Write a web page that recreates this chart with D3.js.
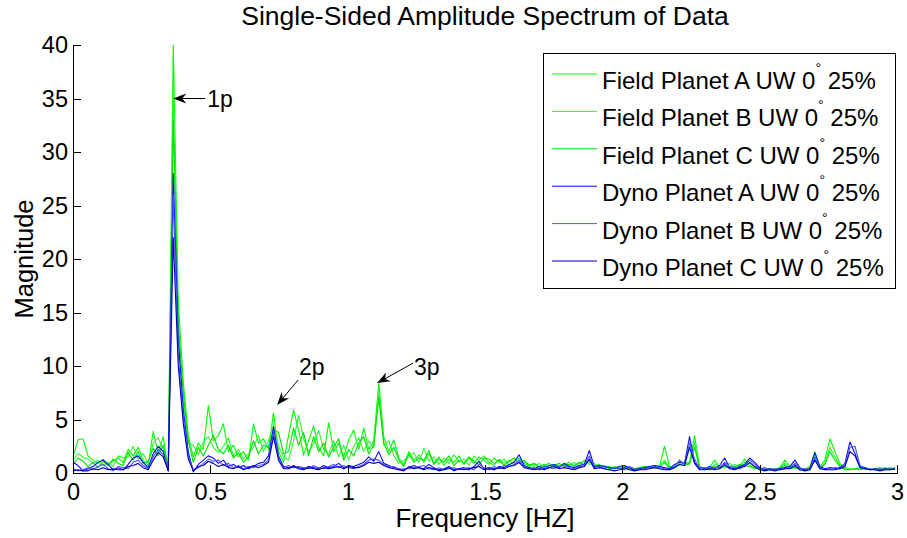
<!DOCTYPE html>
<html>
<head>
<meta charset="utf-8">
<script src="https://cdn.jsdelivr.net/npm/d3@7/dist/d3.min.js"></script>
<style>
	body { margin: 0; background: #fff; }
	text { font-family: Arial, "Liberation Sans", sans-serif; fill: #000; }
</style>
</head>
<body>
<div id="chart" style="width:907px;height:538px;"></div>
<script>
// FFT bin spacing (Hz); bin i sits at i * binWidth
const binWidth = 0.01825;

const fieldA = [
	1.5, 3.1, 3.2, 1.6, 1.2, 0.9, 1.3, 0.8, 1.1, 1.4,
	1.0, 2.2, 1.6, 2.4, 1.2, 0.7, 3.9, 1.9, 3.4, 0.3,
	40, 16, 8.5, 3.5, 1.5, 2.8, 2.2, 6.3, 3.0, 3.5,
	4.6, 2.0, 2.6, 1.5, 2.0, 1.2, 4.6, 2.8, 3.2, 2.2,
	5.6, 2.0, 1.0, 3.5, 5.9, 4.0, 1.7, 3.0, 4.4, 2.4,
	1.6, 4.7, 2.0, 2.8, 1.5, 3.1, 4.0, 2.2, 4.2, 2.2,
	3.0, 8.4, 3.4, 2.0, 3.1, 1.4, 0.8, 2.0, 1.2, 1.7,
	1.0, 1.8, 0.9, 1.5, 0.7, 1.3, 1.0, 1.6, 0.8, 1.4,
	0.9, 1.5, 1.2, 0.8, 1.4, 1.0, 1.3, 0.7, 1.1, 1.4,
	0.9, 0.6, 0.8, 0.5, 0.7, 0.9, 0.5, 0.7, 0.8, 1.0,
	0.6, 0.9, 1.1, 1.0, 0.7, 0.8, 0.5, 0.6, 0.4, 0.6,
	0.5, 0.3, 0.4, 0.5, 0.6, 0.5, 0.7, 0.6, 2.5, 0.6,
	0.5, 1.1, 0.9, 1.0, 3.5, 0.6, 0.4, 0.5, 1.2, 0.5,
	0.6, 0.9, 0.5, 0.7, 1.3, 0.7, 0.5, 0.4, 0.3, 0.4,
	0.3, 0.5, 1.2, 0.6, 0.5, 0.4, 0.3, 0.6, 2.0, 0.6,
	1.2, 3.2, 2.0, 0.9, 0.4, 0.3, 0.4, 0.5, 0.4, 0.3,
	0.4, 0.5, 0.3, 0.4, 0.5
];
const fieldB = [
	1.2, 1.8, 1.5, 1.3, 0.9, 1.2, 0.7, 1.0, 0.6, 1.6,
	1.4, 1.5, 2.5, 1.3, 1.8, 0.9, 2.8, 3.3, 2.2, 0.5,
	36, 13, 6.8, 2.8, 2.6, 1.7, 2.9, 3.4, 2.4, 1.9,
	2.5, 3.3, 1.6, 2.2, 1.3, 1.8, 2.4, 3.5, 2.0, 3.0,
	4.5, 2.5, 1.5, 1.2, 3.0, 5.4, 3.2, 2.0, 2.7, 4.0,
	2.2, 1.8, 3.0, 1.5, 2.6, 1.2, 2.5, 3.3, 2.0, 3.0,
	2.4, 7.6, 2.6, 3.0, 1.6, 0.9, 1.2, 1.5, 1.9, 1.0,
	2.3, 1.1, 1.5, 0.8, 1.4, 0.9, 1.7, 1.0, 1.3, 0.7,
	1.6, 1.2, 1.6, 1.0, 0.7, 1.3, 0.9, 1.2, 0.8, 1.2,
	1.0, 0.8, 0.6, 0.9, 0.5, 0.7, 0.8, 0.6, 0.9, 0.7,
	1.0, 0.6, 1.2, 0.8, 0.9, 0.5, 0.7, 0.4, 0.6, 0.5,
	0.3, 0.5, 0.4, 0.3, 0.5, 0.6, 0.5, 0.7, 1.2, 0.5,
	0.6, 0.9, 1.0, 0.8, 2.9, 0.4, 0.5, 0.3, 0.8, 0.6,
	0.5, 0.6, 0.8, 0.5, 1.0, 0.9, 0.6, 0.3, 0.4, 0.3,
	0.4, 0.4, 0.9, 0.5, 0.6, 0.3, 0.4, 0.5, 1.6, 0.5,
	0.9, 2.4, 1.5, 0.7, 0.5, 0.4, 0.3, 0.4, 0.5, 0.4,
	0.3, 0.4, 0.5, 0.3, 0.4
];
const fieldC = [
	0.8, 1.4, 1.1, 0.6, 1.0, 0.5, 1.1, 0.7, 1.3, 0.9,
	0.7, 1.9, 1.2, 2.0, 0.9, 1.1, 2.3, 1.6, 2.6, 0.4,
	33, 14, 7.5, 3.0, 1.0, 2.4, 1.6, 2.6, 3.5, 2.2,
	1.8, 2.6, 1.4, 1.9, 1.0, 1.5, 3.0, 1.8, 2.6, 2.4,
	4.0, 3.8, 1.8, 2.0, 4.2, 2.6, 3.8, 1.6, 3.4, 2.0,
	2.8, 1.5, 2.4, 3.2, 1.2, 2.2, 1.6, 2.8, 3.4, 1.8,
	2.6, 7.0, 2.8, 1.7, 2.4, 1.2, 0.6, 1.8, 1.0, 1.4,
	1.2, 2.1, 0.8, 1.3, 1.0, 1.6, 0.7, 1.2, 0.9, 1.5,
	1.1, 0.8, 1.4, 1.3, 0.9, 1.2, 0.7, 1.1, 1.4, 0.9,
	1.2, 0.7, 0.9, 0.6, 0.8, 0.5, 0.7, 0.9, 0.6, 0.8,
	0.7, 1.0, 0.8, 1.2, 0.6, 0.7, 0.6, 0.5, 0.5, 0.4,
	0.6, 0.4, 0.3, 0.5, 0.4, 0.5, 0.6, 0.5, 1.0, 0.4,
	0.5, 0.8, 0.7, 0.9, 2.4, 0.5, 0.3, 0.4, 0.6, 0.4,
	0.7, 0.5, 0.6, 0.8, 0.7, 0.6, 0.4, 0.5, 0.3, 0.4,
	0.3, 0.5, 0.7, 0.4, 0.5, 0.4, 0.3, 0.4, 1.3, 0.4,
	0.8, 2.0, 1.2, 0.6, 0.3, 0.3, 0.4, 0.3, 0.4, 0.3,
	0.4, 0.3, 0.4, 0.5, 0.3
];
const dynoA = [
	1.0, 0.7, 0.2, 0.4, 0.6, 1.0, 1.2, 0.8, 0.3, 0.5,
	0.3, 0.8, 1.4, 1.6, 1.0, 0.5, 1.8, 2.5, 2.0, 0.2,
	28, 12.5, 5.9, 2.0, 0.1, 0.8, 1.2, 1.6, 1.4, 0.9,
	1.2, 0.6, 0.8, 0.5, 0.7, 0.4, 0.6, 0.9, 1.0, 1.6,
	4.3, 1.6, 0.6, 0.5, 0.7, 0.5, 0.4, 0.6, 0.5, 0.4,
	0.7, 0.5, 0.6, 0.9, 0.5, 0.7, 0.6, 0.8, 1.0, 1.5,
	1.1, 2.0, 0.9, 0.7, 0.5, 0.4, 0.3, 0.5, 0.7, 0.5,
	0.4, 0.8, 0.5, 0.3, 0.4, 0.6, 0.3, 0.4, 0.5, 0.3,
	0.6, 1.1, 0.4, 0.5, 0.4, 0.6, 0.5, 0.8, 1.0, 1.7,
	0.7, 0.5, 0.4, 0.6, 0.4, 0.7, 0.8, 0.5, 0.9, 0.6,
	0.5, 0.7, 0.8, 2.1, 0.6, 0.7, 0.6, 0.5, 0.4, 0.6,
	0.7, 0.5, 0.3, 0.4, 0.5, 0.6, 0.7, 0.6, 0.5, 0.4,
	0.8, 1.0, 0.9, 3.4, 1.0, 0.5, 0.4, 0.6, 0.4, 0.7,
	1.4, 0.5, 0.4, 0.6, 0.8, 1.4, 1.0, 0.5, 0.3, 0.4,
	0.3, 0.4, 0.5, 0.6, 1.2, 0.5, 0.3, 0.4, 1.9, 0.6,
	0.4, 0.5, 0.4, 0.5, 0.9, 2.9, 1.8, 0.6, 0.5, 0.3,
	0.4, 0.3, 0.4, 0.3, 0.4
];
const dynoB = [
	0.4, 0.2, 0.3, 0.5, 0.3, 0.6, 0.8, 0.4, 0.2, 0.6,
	0.5, 0.4, 1.0, 1.2, 0.7, 0.4, 1.5, 2.2, 1.7, 0.3,
	26, 11, 5.2, 1.6, 0.3, 0.5, 0.9, 1.3, 1.1, 1.2,
	0.7, 0.9, 0.5, 0.7, 0.4, 0.6, 0.5, 0.7, 0.8, 1.2,
	3.8, 1.4, 0.5, 0.7, 0.5, 0.6, 0.5, 0.4, 0.7, 0.5,
	0.4, 0.6, 0.8, 0.5, 0.7, 0.5, 0.4, 0.6, 0.8, 1.2,
	1.3, 1.2, 0.8, 0.6, 0.6, 0.3, 0.4, 0.4, 0.5, 0.6,
	0.7, 0.4, 0.3, 0.5, 0.3, 0.4, 0.5, 0.3, 0.4, 0.5,
	0.3, 0.8, 0.5, 0.3, 0.6, 0.4, 0.7, 0.6, 0.8, 1.2,
	0.6, 0.4, 0.5, 0.3, 0.6, 0.5, 0.4, 0.6, 0.7, 0.5,
	0.4, 0.6, 0.7, 1.6, 0.5, 0.6, 0.4, 0.3, 0.5, 0.4,
	0.3, 0.6, 0.4, 0.3, 0.4, 0.5, 0.6, 0.5, 0.4, 0.3,
	0.6, 1.2, 0.8, 2.8, 1.3, 0.4, 0.5, 0.3, 0.5, 0.5,
	1.0, 0.6, 0.5, 0.4, 0.7, 1.2, 0.8, 0.4, 0.5, 0.3,
	0.4, 0.3, 0.4, 0.5, 0.9, 0.4, 0.4, 0.3, 1.5, 0.5,
	0.3, 0.4, 0.5, 0.4, 0.7, 2.4, 2.5, 0.7, 0.4, 0.4,
	0.3, 0.4, 0.3, 0.4, 0.3
];
const dynoC = [
	0.2, 0.3, 0.2, 0.2, 0.4, 0.3, 0.5, 0.3, 0.4, 0.3,
	0.3, 0.6, 0.7, 0.9, 0.5, 0.3, 1.2, 1.9, 1.5, 0.2,
	22, 10, 4.6, 1.3, 0.2, 0.6, 0.7, 1.1, 0.9, 0.6,
	0.8, 0.5, 0.4, 0.6, 0.3, 0.5, 0.7, 0.5, 0.7, 1.0,
	3.4, 1.2, 0.4, 0.4, 0.6, 0.4, 0.3, 0.5, 0.4, 0.3,
	0.5, 0.4, 0.5, 0.6, 0.4, 0.6, 0.5, 0.5, 0.7, 1.0,
	0.9, 1.0, 0.7, 0.5, 0.4, 0.3, 0.2, 0.6, 0.4, 0.5,
	0.3, 0.5, 0.4, 0.2, 0.3, 0.5, 0.2, 0.4, 0.3, 0.4,
	0.5, 0.6, 0.3, 0.4, 0.3, 0.5, 0.4, 0.6, 0.7, 1.0,
	0.5, 0.4, 0.3, 0.4, 0.3, 0.5, 0.6, 0.4, 0.5, 0.4,
	0.3, 0.5, 0.6, 1.3, 0.4, 0.5, 0.4, 0.3, 0.2, 0.3,
	0.5, 0.3, 0.2, 0.3, 0.3, 0.4, 0.5, 0.4, 0.3, 0.3,
	0.5, 0.8, 0.7, 2.4, 0.9, 0.3, 0.3, 0.4, 0.3, 0.4,
	0.8, 0.4, 0.3, 0.5, 0.6, 1.0, 0.6, 0.3, 0.2, 0.3,
	0.2, 0.3, 0.4, 0.4, 0.7, 0.3, 0.2, 0.3, 1.2, 0.4,
	0.3, 0.3, 0.3, 0.4, 0.6, 2.0, 1.6, 0.5, 0.4, 0.3,
	0.3, 0.2, 0.3, 0.3, 0.4
];

const seriesNames = [
	'Field Planet A UW 0',
	'Field Planet B UW 0',
	'Field Planet C UW 0',
	'Dyno Planet A UW 0',
	'Dyno Planet B UW 0',
	'Dyno Planet C UW 0'
];
const seriesValues = [fieldA, fieldB, fieldC, dynoA, dynoB, dynoC];

const xTicks = [0, 0.5, 1, 1.5, 2, 2.5, 3];
const yTicks = [0, 5, 10, 15, 20, 25, 30, 35, 40];

// harmonic call-outs: label, frequency and magnitude the arrow points at
const peakLabels = ['1p', '2p', '3p'];
const peakFreqs = [0.365, 0.743, 1.107];
const peakMags = [35, 6.35, 8.4];

const colors = ['#00ff00', '#33f533', '#00e000', '#0a0aff', '#5050ff', '#0000b4'];

const width = 907,
	height = 538,
	margin = { top: 45, right: 10, bottom: 65, left: 73 };

const svg = d3.select('#chart').append('svg')
	.attr('width', width)
	.attr('height', height);

const x = d3.scaleLinear()
	.domain([0, 3])
	.range([margin.left, width - margin.right]);

const y = d3.scaleLinear()
	.domain([0, 40])
	.range([height - margin.bottom, margin.top]);

// spectrum lines, field first so dyno sits on top
const line = d3.line()
	.x((d, i) => x(i * binWidth))
	.y(d => y(d));

svg.append('g')
	.selectAll('path')
	.data(seriesValues)
	.join('path')
	.attr('d', line)
	.attr('fill', 'none')
	.attr('stroke', (d, i) => colors[i])
	.attr('stroke-width', 1.1)
	.attr('stroke-linejoin', 'round');

// axes, ticks pointing inwards like MATLAB
const yAxis = svg.append('g')
	.attr('transform', `translate(${margin.left},0)`)
	.call(d3.axisLeft(y).tickValues(yTicks).tickFormat(d => String(d))
		.tickSize(-8).tickSizeOuter(0).tickPadding(5));

const xAxis = svg.append('g')
	.attr('transform', `translate(0,${height - margin.bottom})`)
	.call(d3.axisBottom(x).tickValues(xTicks).tickFormat(d => String(d))
		.tickSize(-8).tickSizeOuter(0).tickPadding(10));

[xAxis, yAxis].forEach(ax => {
	ax.attr('font-size', null).attr('font-family', null);
	ax.selectAll('text').style('font-size', '23.5px');
	ax.select('.domain').attr('stroke', '#000').attr('shape-rendering', 'crispEdges');
	ax.selectAll('.tick line').attr('stroke', '#000').attr('shape-rendering', 'crispEdges');
});

// titles
svg.append('text')
	.attr('x', (x.range()[0] + x.range()[1]) / 2)
	.attr('y', 25)
	.attr('text-anchor', 'middle')
	.style('font-size', '26.5px')
	.text('Single-Sided Amplitude Spectrum of Data');

svg.append('text')
	.attr('x', (x.range()[0] + x.range()[1]) / 2)
	.attr('y', 527)
	.attr('text-anchor', 'middle')
	.style('font-size', '26px')
	.text('Frequency [HZ]');

svg.append('text')
	.attr('transform', `translate(33,${(y.range()[0] + y.range()[1]) / 2}) rotate(-90)`)
	.attr('text-anchor', 'middle')
	.style('font-size', '25.5px')
	.text('Magnitude');

// arrows for the harmonics: tail offset from the tip, and text offset from the tail
const tailOffsets = [[32, 0], [21, -25], [36, -20]];
const labelOffsets = [[2, 8], [1, -5], [1, 12]];

function arrow(x1, y1, x2, y2) {
	const ang = Math.atan2(y2 - y1, x2 - x1),
		len = 13, half = 5, notch = 4,
		ca = Math.cos(ang), sa = Math.sin(ang);
	const pt = (back, side) => [x2 - back * ca - side * sa, y2 - back * sa + side * ca];
	svg.append('line')
		.attr('x1', x1).attr('y1', y1)
		.attr('x2', x2 - notch * ca).attr('y2', y2 - notch * sa)
		.attr('stroke', '#000');
	svg.append('path')
		.attr('d', 'M' + [[x2, y2], pt(len, half), pt(len - notch, 0), pt(len, -half)].join('L') + 'Z')
		.attr('fill', '#000');
}

peakLabels.forEach((lab, i) => {
	const tipX = x(peakFreqs[i]), tipY = y(peakMags[i]),
		tailX = tipX + tailOffsets[i][0], tailY = tipY + tailOffsets[i][1];
	arrow(tailX, tailY, tipX, tipY);
	svg.append('text')
		.attr('x', tailX + labelOffsets[i][0])
		.attr('y', tailY + labelOffsets[i][1])
		.style('font-size', '23px')
		.text(lab);
});

// legend
const legend = svg.append('g');

legend.append('rect')
	.attr('x', 543.5)
	.attr('y', 53.5)
	.attr('width', 352)
	.attr('height', 235)
	.attr('fill', '#fff')
	.attr('stroke', '#000');

seriesNames.forEach((name, i) => {
	const rowY = 74 + i * 37.4;
	legend.append('line')
		.attr('x1', 552).attr('x2', 597)
		.attr('y1', rowY).attr('y2', rowY)
		.attr('stroke', colors[i]);
	const t = legend.append('text')
		.attr('x', 602)
		.attr('y', rowY + 15)
		.style('font-size', '24px')
		.text(name);
	t.append('tspan').attr('dy', -16).style('font-size', '14px').text('°');
	t.append('tspan').attr('dy', 16).text(' 25%');
});
</script>
</body>
</html>
